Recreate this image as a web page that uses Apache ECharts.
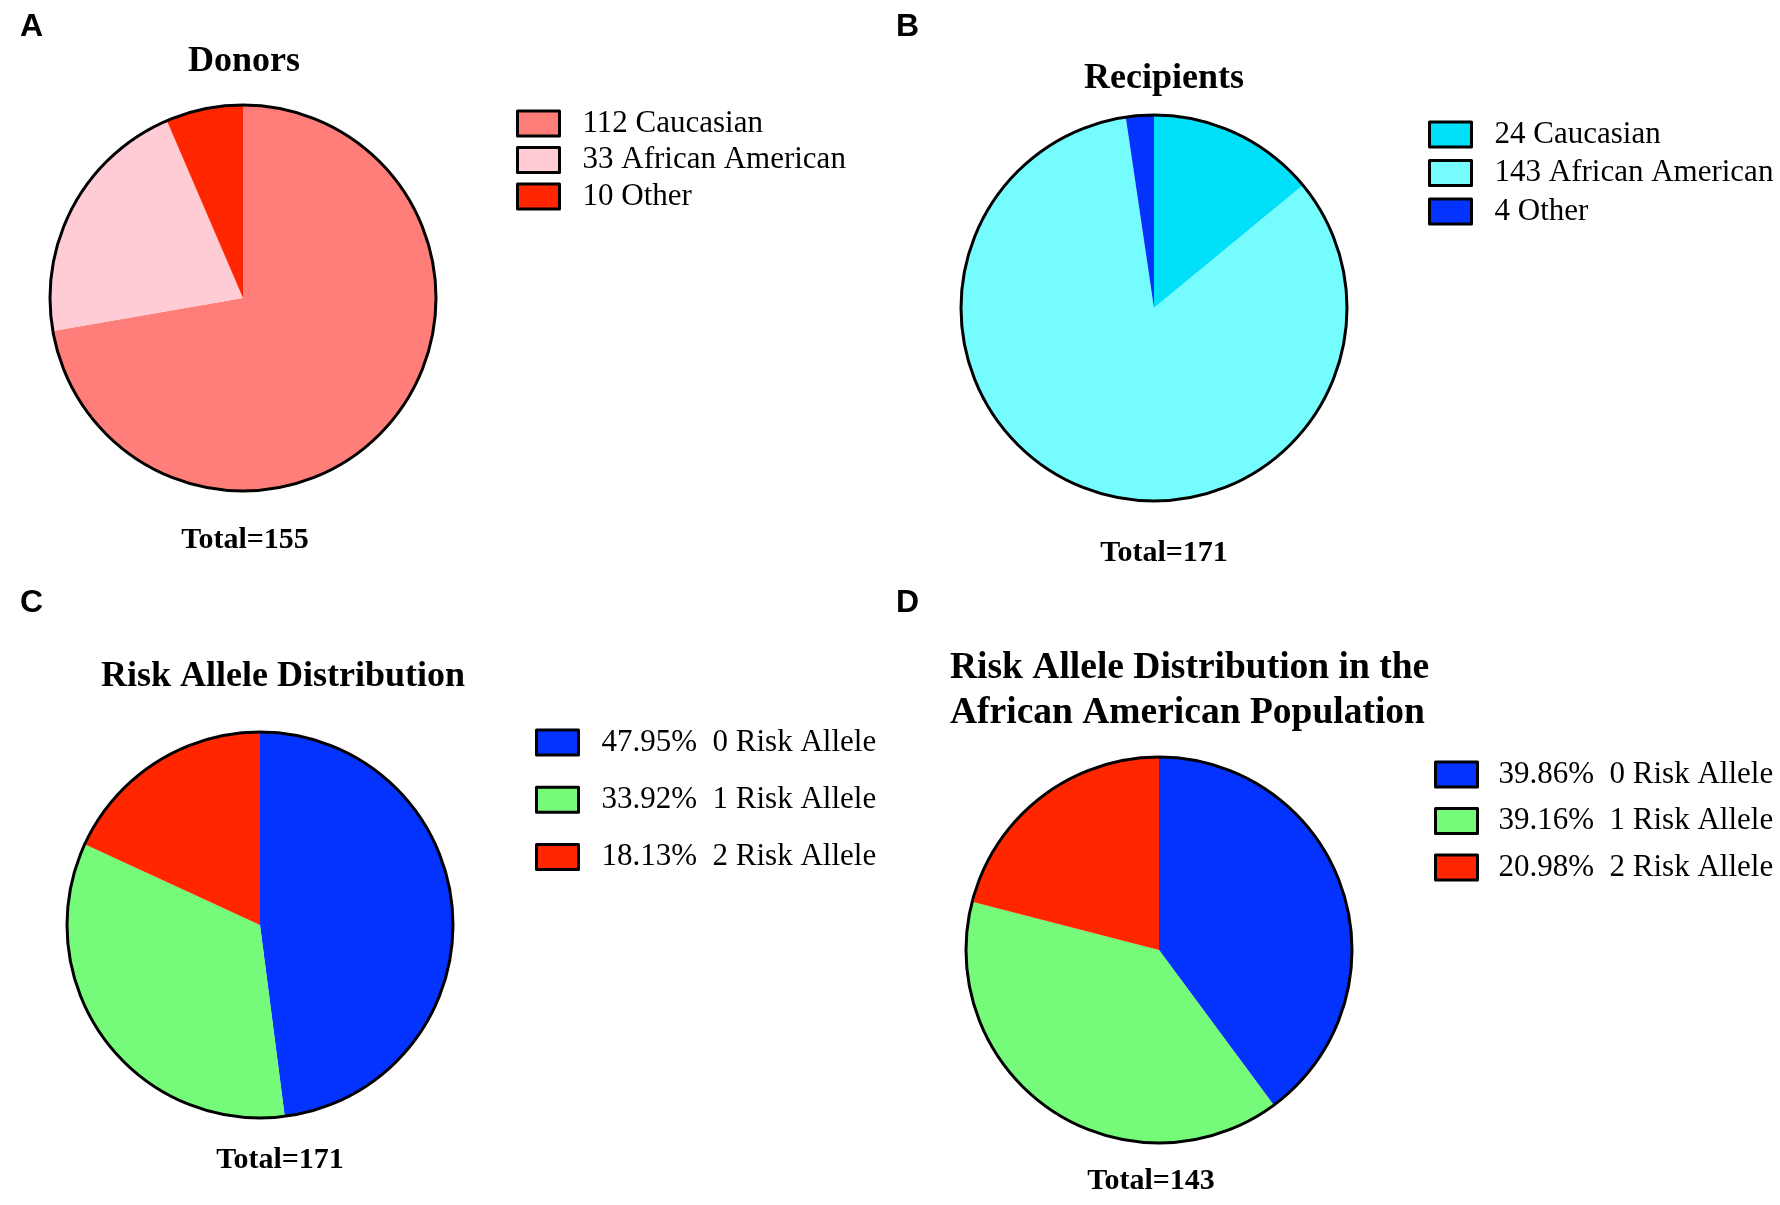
<!DOCTYPE html>
<html>
<head>
<meta charset="utf-8">
<script src="https://cdn.jsdelivr.net/npm/echarts@6/dist/echarts.min.js"></script>
<style>
html, body { margin: 0; padding: 0; background: #fff; }
#main { width: 1780px; height: 1205px; }
</style>
</head>
<body>
<div id="main"></div>
<script>
// 数据
var donorNames = ['Caucasian', 'African American', 'Other'];
var donorCounts = [112, 33, 10];

var recipientNames = ['Caucasian', 'African American', 'Other'];
var recipientCounts = [24, 143, 4];

var alleleNames = ['0 Risk Allele', '1 Risk Allele', '2 Risk Allele'];
var alleleAllCounts = [82, 58, 31];   // 全部受者
var alleleAACounts = [57, 56, 30];    // 非裔美国人受者

// 颜色
var donorColors = ['#FF7E79', '#FFCBD4', '#FF2600'];
var recipientColors = ['#00E1F9', '#75FCFE', '#0433FF'];
var alleleColors = ['#0433FF', '#75FA7A', '#FF2600'];

function sum(arr) {
    return arr.reduce(function (a, b) { return a + b; }, 0);
}

// "112 Caucasian" 这种图例文字
function countLabels(names, counts) {
    return names.map(function (n, i) { return counts[i] + ' ' + n; });
}

// "47.95%  0 Risk Allele" 这种图例文字
function percentLabels(names, counts) {
    var total = sum(counts);
    return names.map(function (n, i) {
        return (counts[i] / total * 100).toFixed(2) + '%  ' + n;
    });
}

// 每个小图的位置
var panels = [
    {
        tag: 'A', tagX: 20, tagY: 27,
        title: 'Donors', titleX: 244, titleY: 62, titleAlign: 'center', titleSize: 36,
        labels: countLabels(donorNames, donorCounts), counts: donorCounts, colors: donorColors,
        cx: 243, cy: 298,
        legendLeft: 516, legendTop: 108, itemGap: 5.5, textPad: 18,
        totalX: 245, totalY: 540
    },
    {
        tag: 'B', tagX: 896, tagY: 27,
        title: 'Recipients', titleX: 1164, titleY: 79, titleAlign: 'center', titleSize: 36,
        labels: countLabels(recipientNames, recipientCounts), counts: recipientCounts, colors: recipientColors,
        cx: 1154, cy: 308,
        legendLeft: 1428, legendTop: 119, itemGap: 7.5, textPad: 18,
        totalX: 1164, totalY: 553
    },
    {
        tag: 'C', tagX: 20, tagY: 603,
        title: 'Risk Allele Distribution', titleX: 283, titleY: 677, titleAlign: 'center', titleSize: 36,
        labels: percentLabels(alleleNames, alleleAllCounts), counts: alleleAllCounts, colors: alleleColors,
        cx: 260, cy: 925,
        legendLeft: 535, legendTop: 727, itemGap: 26.3, textPad: 18,
        totalX: 280, totalY: 1160
    },
    {
        tag: 'D', tagX: 896, tagY: 603,
        title: 'Risk Allele Distribution in the\nAfrican American Population', titleX: 950, titleY: 646, titleAlign: 'left', titleSize: 37.5,
        labels: percentLabels(alleleNames, alleleAACounts), counts: alleleAACounts, colors: alleleColors,
        cx: 1159, cy: 950,
        legendLeft: 1434, legendTop: 759, itemGap: 15.5, textPad: 16,
        totalX: 1151, totalY: 1181
    }
];

var series = [];
var legends = [];
var graphics = [];

panels.forEach(function (p) {
    // 饼图本身
    series.push({
        type: 'pie',
        center: [p.cx, p.cy],
        radius: 193,
        startAngle: 90,
        clockwise: true,
        label: { show: false },
        labelLine: { show: false },
        emphasis: { scale: false },
        itemStyle: { borderWidth: 0 },
        data: p.labels.map(function (name, i) {
            return { name: name, value: p.counts[i], itemStyle: { color: p.colors[i] } };
        })
    });
    // 外圈黑边
    series.push({
        type: 'pie',
        center: [p.cx, p.cy],
        radius: 193,
        silent: true,
        z: 3,
        label: { show: false },
        labelLine: { show: false },
        itemStyle: { color: 'rgba(0,0,0,0)', borderColor: '#000', borderWidth: 3 },
        data: [{ name: 'outline', value: sum(p.counts) }]
    });

    legends.push({
        orient: 'vertical',
        left: p.legendLeft,
        top: p.legendTop,
        padding: 0,
        icon: 'rect',
        itemWidth: 42,
        itemHeight: 25,
        itemGap: p.itemGap,
        selectedMode: false,
        itemStyle: { borderColor: '#000', borderWidth: 3 },
        textStyle: {
            fontFamily: 'Liberation Serif',
            fontSize: 31,
            color: '#000',
            padding: [0, 0, 0, p.textPad]
        },
        data: p.labels
    });

    graphics.push({
        type: 'text',
        x: p.tagX,
        y: p.tagY,
        style: {
            text: p.tag,
            font: 'bold 32px "Liberation Sans"',
            fill: '#000',
            align: 'left', verticalAlign: 'middle',
            textAlign: 'left', textVerticalAlign: 'middle'
        }
    });
    graphics.push({
        type: 'text',
        x: p.titleX,
        y: p.titleY,
        style: {
            text: p.title,
            font: 'bold ' + p.titleSize + 'px "Liberation Serif"',
            lineHeight: 45,
            fill: '#000',
            align: p.titleAlign, verticalAlign: p.titleAlign === 'left' ? 'top' : 'middle',
            textAlign: p.titleAlign, textVerticalAlign: p.titleAlign === 'left' ? 'top' : 'middle'
        }
    });
    graphics.push({
        type: 'text',
        x: p.totalX,
        y: p.totalY,
        style: {
            text: 'Total=' + sum(p.counts),
            font: 'bold 30px "Liberation Serif"',
            fill: '#000',
            align: 'center', verticalAlign: 'middle',
            textAlign: 'center', textVerticalAlign: 'middle'
        }
    });
});

var myChart = echarts.init(document.getElementById('main'));
var option = {
    animation: false,
    backgroundColor: '#fff',
    legend: legends,
    series: series,
    graphic: graphics
};
myChart.setOption(option);
</script>
</body>
</html>
